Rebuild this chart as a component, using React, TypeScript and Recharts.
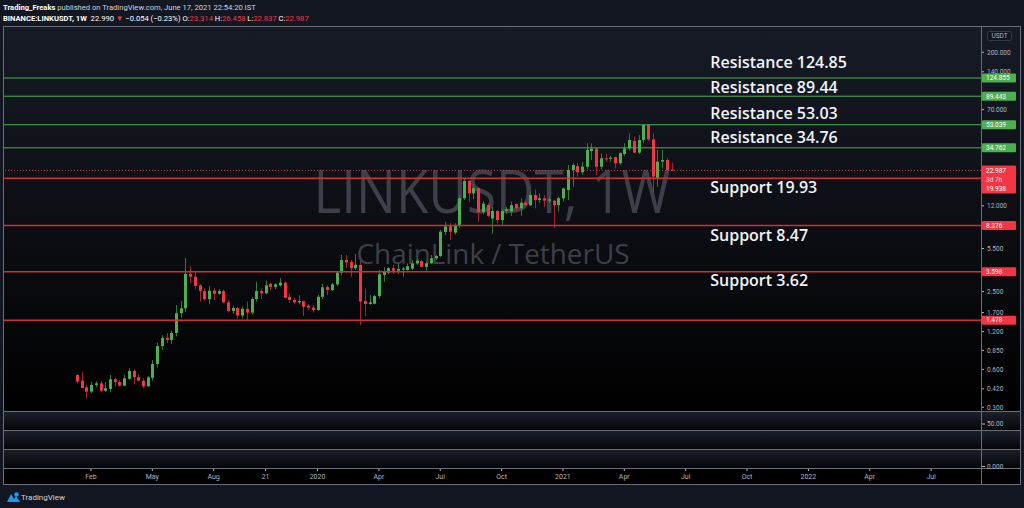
import React from "react";
import { ComposedChart, Bar, XAxis, YAxis, ReferenceLine, ReferenceDot } from "recharts";

// weekly candles, LINKUSDT, first bar = week of 14 Jan 2019
const opens = [
  0.542, 0.488, 0.432, 0.399, 0.451, 0.465, 0.406, 0.42, 0.501, 0.477, 0.445, 0.505, 0.583, 0.52, 0.488, 0.44,
  0.515, 0.663, 0.92, 1.07, 1.03, 1.17, 1.68, 1.84, 3.45, 3.28, 2.8, 2.52, 2.17, 2.54, 2.4, 2.52,
  2.05, 1.75, 1.85, 1.61, 1.82, 1.7, 2.18, 2.52, 2.42, 2.88, 2.72, 2.8, 2.94, 2.27, 2.14, 2.05,
  2.1, 1.93, 1.86, 1.78, 2.27, 2.72, 2.57, 2.85, 3.53, 4.46, 4.29, 3.83, 4.07, 2.1, 1.99, 2.0,
  2.3, 3.39, 3.53, 3.83, 3.66, 3.78, 3.71, 3.8, 4.19, 4.37, 3.93, 4.19, 4.6, 4.79, 7.45, 8.25,
  7.35, 8.46, 13.8, 18.9, 15.1, 16.6, 10.7, 12.2, 9.54, 10.93, 9.27, 10.95, 10.8, 12.4, 11.48, 12.73,
  12.16, 14.65, 13.37, 13.8, 13.2, 13.2, 12.16, 13.8, 16.06, 23.15, 24.9, 22.2, 24.6, 32.8, 34.2, 24.6,
  28.7, 28.5, 29.3, 26.2, 31.0, 34.4, 39.4, 31.8, 40.1, 52.8, 40.6, 19.9, 27.0, 27.8, 23.314,
];
const highs = [
  0.549, 0.572, 0.452, 0.479, 0.483, 0.483, 0.477, 0.542, 0.51, 0.494, 0.542, 0.613, 0.601, 0.545, 0.51, 0.532,
  0.713, 0.98, 1.12, 1.17, 1.22, 1.95, 2.1, 4.62, 3.99, 3.6, 2.85, 2.65, 2.77, 2.65, 2.62, 2.6,
  2.14, 1.93, 1.88, 1.9, 2.08, 2.25, 2.99, 2.65, 3.05, 2.93, 2.91, 3.19, 2.99, 2.41, 2.23, 2.33,
  2.11, 1.98, 1.95, 2.35, 2.87, 2.8, 2.94, 3.6, 4.88, 4.88, 4.46, 4.97, 4.37, 2.65, 2.35, 2.35,
  3.71, 3.89, 3.89, 4.08, 4.19, 3.91, 4.19, 4.46, 4.51, 4.46, 4.33, 4.88, 4.88, 7.72, 8.98, 8.72,
  8.75, 14.65, 19.9, 19.3, 17.8, 16.8, 13.0, 12.6, 11.8, 11.13, 11.3, 11.8, 12.96, 12.6, 13.8, 13.1,
  15.6, 16.2, 15.1, 14.6, 14.2, 13.37, 14.2, 16.8, 25.4, 26.2, 26.2, 27.0, 37.8, 37.8, 35.0, 31.4,
  31.3, 30.0, 29.5, 32.0, 37.8, 45.2, 42.7, 44.0, 53.0, 53.5, 45.2, 33.4, 33.4, 29.0, 26.458,
];
const lows = [
  0.465, 0.425, 0.352, 0.387, 0.433, 0.397, 0.397, 0.395, 0.44, 0.44, 0.44, 0.494, 0.457, 0.485, 0.425, 0.437,
  0.488, 0.62, 0.86, 0.97, 0.96, 1.1, 1.54, 1.72, 2.91, 2.6, 2.08, 2.11, 1.98, 2.14, 2.35, 2.02,
  1.7, 1.66, 1.53, 1.53, 1.46, 1.63, 2.08, 2.17, 2.38, 2.55, 2.62, 2.74, 2.21, 2.02, 1.98, 1.98,
  1.6, 1.78, 1.7, 1.76, 2.18, 2.35, 2.52, 2.77, 3.37, 3.83, 3.28, 3.71, 1.35, 1.59, 1.96, 1.98,
  2.22, 2.99, 3.45, 3.45, 3.43, 3.28, 3.66, 3.71, 4.07, 3.9, 3.66, 4.13, 4.46, 4.7, 7.04, 6.43,
  7.1, 8.0, 13.37, 12.96, 13.55, 8.98, 10.3, 9.8, 7.19, 8.72, 8.46, 10.3, 10.0, 10.8, 10.0, 11.96,
  11.96, 11.48, 12.64, 11.8, 12.6, 8.0, 10.8, 13.0, 13.37, 17.1, 20.5, 21.2, 23.5, 27.8, 21.2, 23.5,
  26.9, 26.9, 23.8, 25.5, 30.0, 33.0, 31.5, 31.0, 38.0, 39.4, 15.1, 17.0, 23.8, 21.9, 22.837,
];
const closes = [
  0.479, 0.427, 0.399, 0.451, 0.465, 0.406, 0.425, 0.501, 0.477, 0.445, 0.51, 0.583, 0.519, 0.488, 0.44, 0.519,
  0.663, 0.92, 1.07, 1.03, 1.17, 1.68, 1.84, 3.45, 3.28, 2.77, 2.52, 2.17, 2.54, 2.4, 2.52, 2.05,
  1.75, 1.85, 1.61, 1.82, 1.7, 2.18, 2.52, 2.42, 2.8, 2.72, 2.85, 2.94, 2.23, 2.14, 2.05, 2.1,
  1.89, 1.86, 1.78, 2.27, 2.7, 2.57, 2.85, 3.53, 4.46, 4.25, 3.83, 4.08, 2.08, 1.99, 2.05, 2.3,
  3.43, 3.64, 3.83, 3.66, 3.78, 3.81, 3.97, 4.19, 4.4, 3.93, 4.19, 4.6, 4.79, 7.48, 8.25, 7.48,
  8.46, 13.8, 18.9, 15.1, 16.6, 10.7, 12.5, 10.0, 10.93, 9.27, 10.95, 11.3, 12.16, 11.48, 12.73, 12.16,
  14.65, 13.37, 13.8, 13.2, 13.5, 12.16, 13.8, 16.5, 23.15, 25.4, 22.2, 24.6, 33.4, 34.2, 24.6, 28.7,
  28.5, 29.0, 26.2, 31.5, 34.4, 40.1, 31.8, 40.1, 52.8, 40.6, 20.5, 27.0, 27.8, 23.15, 22.987,
];

const timeTicks = [3, 16, 29, 40, 51, 64, 77, 90, 103, 116, 129, 142, 155, 168, 181];
const timeLabels = ["Feb", "May", "Aug", "21", "2020", "Apr", "Jul", "Oct", "2021", "Apr", "Jul", "Oct", "2022", "Apr", "Jul"];
// ticks that are not hidden under the price labels
const priceTicks = [200, 140, 70, 12, 5.5, 2.5, 1.7, 1.2, 0.85, 0.6, 0.42, 0.3];

const resistanceLevels = [124.855, 89.443, 53.039, 34.762];
const supportLevels = [8.376, 3.598, 1.478];
const stackedSupport = 19.938; // its label sits under the last-price label
const lastPrice = 22.987;
const countdown = "3d 7h";

const noteText = ["Resistance 124.85", "Resistance 89.44", "Resistance 53.03", "Resistance 34.76", "Support 19.93", "Support 8.47", "Support 3.62"];
const notePrice = [167.4, 105.9, 65.8, 42.4, 16.95, 7.04, 3.09];
const noteWeek = 134.2;

const candles = opens.map((o, i) => ({
  i,
  o,
  h: highs[i],
  l: lows[i],
  c: closes[i],
  range: [lows[i], highs[i]],
}));

const PLOT_W = 977;
const PLOT_H = 385;
const AXIS_W = 39;
const TIME_H = 73;

const GREEN = "#4caf50";
const RED = "#f23645";
const AXIS_TEXT = "#b2b5be";
const FRAME = "#6a6d78";

const fmt3 = (v: number) => v.toFixed(3);

function Candle(props: any) {
  const { x, y, width, height, payload } = props;
  if (x == null || y == null || !payload) return null;
  const top = Math.min(y, y + height);
  const bot = Math.max(y, y + height);
  const lh = Math.log(payload.h);
  const ll = Math.log(payload.l);
  const at = (p: number) => top + ((lh - Math.log(p)) / (lh - ll || 1)) * (bot - top);
  const up = payload.c >= payload.o;
  const cx = Math.round(x + width / 2) + 0.5;
  const b1 = at(Math.max(payload.o, payload.c));
  const b2 = at(Math.min(payload.o, payload.c));
  return (
    <g>
      <line x1={cx} x2={cx} y1={top} y2={bot} stroke={up ? "#2f7d33" : "#a3262f"} strokeWidth={1} />
      <rect x={cx - 1.5} y={b1} width={3} height={Math.max(1, b2 - b1)} fill={up ? GREEN : RED} />
    </g>
  );
}

function XTick(props: any) {
  const { x, payload } = props;
  const k = timeTicks.indexOf(payload.value);
  return (
    <g>
      <line x1={x} x2={x} y1={PLOT_H + 56} y2={PLOT_H + 59} stroke={AXIS_TEXT} />
      <text x={x} y={PLOT_H + 66.5} textAnchor="middle" fontSize={7} fill={AXIS_TEXT} fontFamily="Roboto">
        {timeLabels[k]}
      </text>
    </g>
  );
}

function YTick(props: any) {
  const { y, payload } = props;
  return (
    <g>
      <line x1={PLOT_W} x2={PLOT_W + 3} y1={y} y2={y} stroke={AXIS_TEXT} />
      <text x={PLOT_W + 6} y={y} dy="0.35em" fontSize={6.5} fill={AXIS_TEXT} fontFamily="Roboto">
        {fmt3(payload.value)}
      </text>
    </g>
  );
}

const priceBox = (value: number, color: string) => (p: any) => {
  const y = p.viewBox.y;
  return (
    <g>
      <rect x={PLOT_W + 1} y={y - 4.5} width={34} height={9} fill={color} rx={1} />
      <text x={PLOT_W + 5} y={y} dy="0.35em" fontSize={6.5} fill="#fff" fontFamily="Roboto">
        {fmt3(value)}
      </text>
    </g>
  );
};

const lastBox = (p: any) => {
  const y = p.viewBox.y;
  return (
    <g>
      <rect x={PLOT_W + 1} y={y - 5} width={34} height={28} fill={RED} rx={1} />
      <text x={PLOT_W + 5} y={y} dy="0.35em" fontSize={6.5} fill="#fff" fontFamily="Roboto">{fmt3(lastPrice)}</text>
      <text x={PLOT_W + 5} y={y + 9.3} dy="0.35em" fontSize={6.5} fill="#ffd7da" fontFamily="Roboto">{countdown}</text>
      <text x={PLOT_W + 5} y={y + 18.8} dy="0.35em" fontSize={6.5} fill="#fff" fontFamily="Roboto">{fmt3(stackedSupport)}</text>
    </g>
  );
};

const Note = (text: string) => (p: any) => (
  <text x={p.cx} y={p.cy} dy="0.35em" fontSize={16} fontWeight={600} fill="#f0f3fa" fontFamily="'Open Sans'">
    {text}
  </text>
);

function Chart() {
  return (
    <ComposedChart
      width={PLOT_W + AXIS_W}
      height={PLOT_H + TIME_H}
      data={candles}
      margin={{ top: 0, right: 0, bottom: 0, left: 0 }}
    >
      <XAxis
        dataKey="i"
        type="number"
        domain={[-15.42, 191.57]}
        allowDataOverflow
        ticks={timeTicks}
        interval={0}
        height={TIME_H}
        axisLine={false}
        tickLine={false}
        tick={<XTick />}
      />
      <YAxis
        orientation="right"
        scale="log"
        domain={[0.27503, 317.9]}
        allowDataOverflow
        ticks={priceTicks}
        interval={0}
        width={AXIS_W}
        axisLine={false}
        tickLine={false}
        tick={<YTick />}
      />
      <Bar dataKey="range" barSize={3} shape={Candle} isAnimationActive={false} />
      {resistanceLevels.map((v) => (
        <ReferenceLine key={"r" + v} y={v} stroke={GREEN} strokeWidth={1} label={priceBox(v, GREEN)} />
      ))}
      <ReferenceLine y={stackedSupport} stroke="#d32f2f" strokeWidth={1.5} />
      {supportLevels.map((v) => (
        <ReferenceLine key={"s" + v} y={v} stroke="#d32f2f" strokeWidth={1.5} label={priceBox(v, RED)} />
      ))}
      <ReferenceLine y={lastPrice} stroke={RED} strokeOpacity={0.8} strokeDasharray="1 2" label={lastBox} />
      {noteText.map((t, k) => (
        <ReferenceDot key={t} x={noteWeek} y={notePrice[k]} r={0} shape={Note(t)} />
      ))}
    </ComposedChart>
  );
}

function Header() {
  const red = { color: "#f23645" };
  return (
    <div
      style={{
        position: "absolute",
        left: 3,
        top: 2,
        fontFamily: "Roboto",
        fontSize: 8,
        lineHeight: "11px",
        color: "#d1d4dc",
        whiteSpace: "nowrap",
        transform: "scaleX(0.95)",
        transformOrigin: "left top",
      }}
    >
      <div>
        <b style={{ color: "#fff" }}>Trading_Freaks</b> published on TradingView.com, June 17, 2021 22:54:20 IST
      </div>
      <div style={{ color: "#fff" }}>
        <b>BINANCE:LINKUSDT, 1W</b>&nbsp; 22.990 <span style={red}>▼</span> −0.054 (−0.23%) O:<span style={red}>23.314</span> H:<span style={red}>26.458</span> L:<span style={red}>22.837</span> C:<span style={red}>22.987</span>
      </div>
    </div>
  );
}

export default function App() {
  return (
    <div style={{ position: "relative", width: 1024, height: 508, background: "#131722", overflow: "hidden" }}>
      <style>{"body{margin:0}"}</style>
      <Header />
      {/* pane backgrounds */}
      <div style={{ position: "absolute", left: 4, top: 27, width: 1016, height: 385, background: "linear-gradient(#171b26, #08090c 70%, #000)" }} />
      {[412, 431, 449].map((t, k) => (
        <div key={t} style={{ position: "absolute", left: 4, top: t, width: 1016, height: [19, 18, 19][k], background: "linear-gradient(#1c202b, #050609)" }} />
      ))}
      <div style={{ position: "absolute", left: 4, top: 468, width: 1016, height: 17, background: "#000" }} />
      {/* watermark */}
      <svg style={{ position: "absolute", left: 0, top: 0 }} width={1024} height={508}>
        <text x={492} y={213} textAnchor="middle" fontSize={60} fill="#3d4049" fontFamily="'Open Sans'" textLength={357} lengthAdjust="spacingAndGlyphs">
          LINKUSDT, 1W
        </text>
        <text x={493} y={264} textAnchor="middle" fontSize={28} fill="#3d4049" fontFamily="'Open Sans'" textLength={273} lengthAdjust="spacingAndGlyphs">
          ChainLink / TetherUS
        </text>
      </svg>
      <div style={{ position: "absolute", left: 4, top: 27 }}>
        <Chart />
      </div>
      {/* frame */}
      <svg style={{ position: "absolute", left: 0, top: 0 }} width={1024} height={508}>
        <g stroke={FRAME} strokeWidth={1} fill="none">
          <rect x={3.5} y={26.5} width={1017} height={458} />
          <line x1={981.5} x2={981.5} y1={27} y2={485} />
          {[411.5, 430.5, 449.5, 468.5].map((y) => (
            <line key={y} x1={4} x2={1020} y1={y} y2={y} />
          ))}
        </g>
        <rect x={987.5} y={31.5} width={24} height={9} rx={2} fill="#131722" stroke="#363a45" />
        <text x={999.5} y={36} dy="0.35em" textAnchor="middle" fontSize={6.5} fill={AXIS_TEXT} fontFamily="Roboto">USDT</text>
        <line x1={982} x2={985} y1={424} y2={424} stroke={AXIS_TEXT} />
        <text x={987} y={424} dy="0.35em" fontSize={6.5} fill={AXIS_TEXT} fontFamily="Roboto">50.00</text>
        <line x1={982} x2={985} y1={466.5} y2={466.5} stroke={AXIS_TEXT} />
        <text x={987} y={466.5} dy="0.35em" fontSize={6.5} fill={AXIS_TEXT} fontFamily="Roboto">0.000</text>
        {/* footer logo */}
        <g transform="translate(7 491)">
          <path d="M0 11 L4 3 L7 8 L9 5 L13 11 Z" fill="#2196f3" />
          <circle cx={9.5} cy={3.5} r={2.2} fill="#2196f3" />
        </g>
        <text x={21} y={497.5} dy="0.35em" fontSize={8} fill="#d1d4dc" fontFamily="Roboto">TradingView</text>
      </svg>
    </div>
  );
}
